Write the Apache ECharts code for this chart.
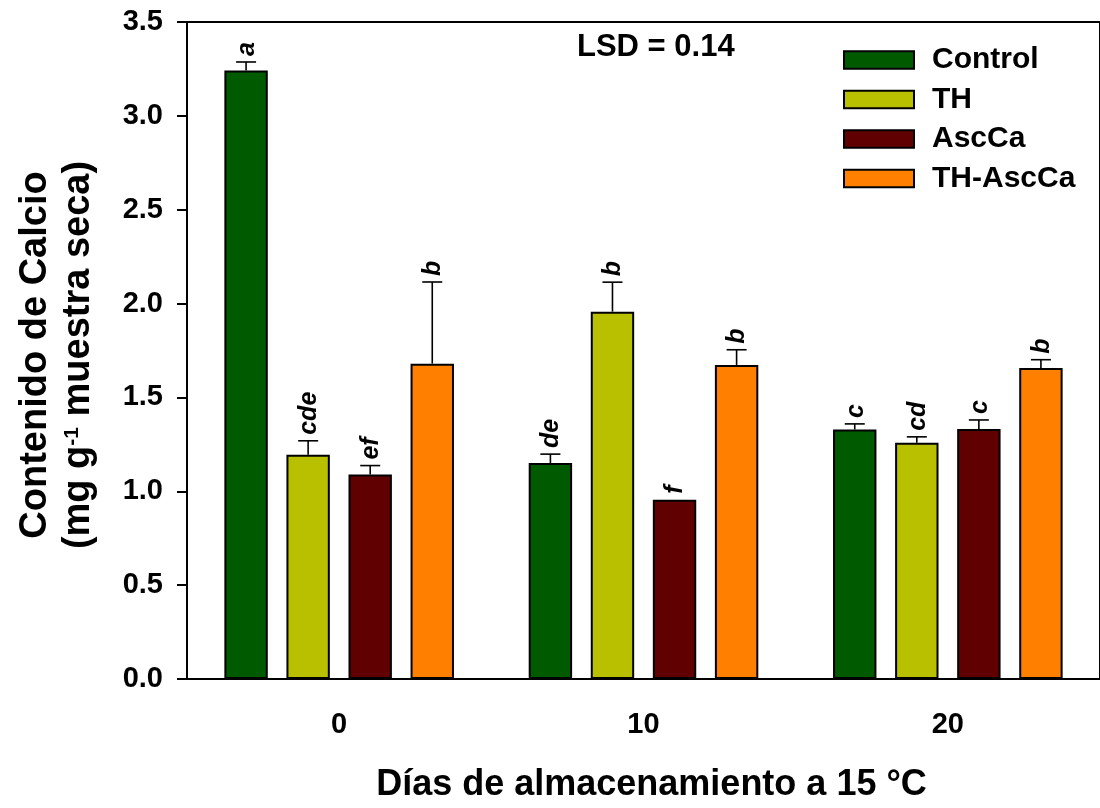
<!DOCTYPE html>
<html>
<head>
<meta charset="utf-8">
<script src="https://cdn.jsdelivr.net/npm/echarts@6/dist/echarts.min.js"></script>
<style>html,body{margin:0;padding:0;background:#fff}#c{width:1100px;height:808px}</style>
</head>
<body>
<div id="c"></div>
<script>
// ---- data ----
const days = ['0', '10', '20'];
const seriesNames = ['Control', 'TH', 'AscCa', 'TH-AscCa'];
const control = [3.242, 1.151, 1.329];
const controlErr = [0.045, 0.047, 0.030];
const controlLetters = ['a', 'de', 'c'];
const th = [1.195, 1.957, 1.258];
const thErr = [0.074, 0.157, 0.032];
const thLetters = ['cde', 'b', 'cd'];
const ascca = [1.089, 0.955, 1.332];
const asccaErr = [0.048, 0, 0.048];
const asccaLetters = ['ef', 'f', 'c'];
const thAscca = [1.680, 1.673, 1.657];
const thAsccaErr = [0.435, 0.081, 0.044];
const thAsccaLetters = ['b', 'b', 'b'];
const yTicks = { min: 0, max: 3.5, interval: 0.5 };
const lsdText = 'LSD = 0.14';

// ---- styling ----
const FONT = '"Liberation Sans", Arial, Helvetica, sans-serif';
const colors = ['#005a00', '#b8c000', '#600000', '#ff8000'];
const BAR_W = 43.4;
const BAR_GAP = 0.43;

const values = [control, th, ascca, thAscca];
const errs = [controlErr, thErr, asccaErr, thAsccaErr];
const letters = [controlLetters, thLetters, asccaLetters, thAsccaLetters];

const errRows = [];
const errLetters = [];
values.forEach((vals, si) => {
  vals.forEach((v, ci) => {
    errRows.push([ci, v, errs[si][ci], si]);
    errLetters.push(letters[si][ci]);
  });
});

const chart = echarts.init(document.getElementById('c'), null, { renderer: 'canvas' });

const barSeries = seriesNames.map((name, si) => ({
  name: name,
  type: 'bar',
  data: values[si],
  barWidth: BAR_W,
  barGap: (BAR_GAP * 100) + '%',
  itemStyle: { color: colors[si], borderColor: '#000', borderWidth: 2 },
  z: 2
}));

const errSeries = {
  type: 'custom',
  name: 'err',
  data: errRows,
  z: 5,
  encode: { x: 0, y: 1 },
  renderItem: function (params, api) {
    const ci = api.value(0), v = api.value(1), e = api.value(2), si = api.value(3);
    const step = BAR_W * (1 + BAR_GAP);
    const cx = api.coord([ci, 0])[0] + (si - 1.5) * step;
    const yTop = api.coord([ci, v])[1];
    const yErr = api.coord([ci, v + e])[1];
    const children = [];
    if (e > 0) {
      children.push({ type: 'line', shape: { x1: cx, y1: yTop, x2: cx, y2: yErr }, style: { stroke: '#000', lineWidth: 1.6 } });
      children.push({ type: 'line', shape: { x1: cx - 10, y1: yErr, x2: cx + 10, y2: yErr }, style: { stroke: '#000', lineWidth: 1.6 } });
    }
    children.push({
      type: 'text',
      x: cx + 1,
      y: yErr - 6,
      rotation: Math.PI / 2,
      style: {
        text: errLetters[params.dataIndex],
        fill: '#000',
        font: 'italic bold 25px ' + FONT,
        align: 'left',
        verticalAlign: 'middle'
      }
    });
    return { type: 'group', children: children };
  }
};

chart.setOption({
  animation: false,
  backgroundColor: '#fff',
  grid: {
    left: 187, right: -18.5, top: 22, bottom: 124.3,
    show: true, borderColor: '#000', borderWidth: 2, backgroundColor: 'transparent'
  },
  legend: {
    data: seriesNames,
    orient: 'vertical',
    left: 843, top: 45,
    padding: 0,
    itemWidth: 70, itemHeight: 17.6,
    itemGap: 9.5,
    icon: 'rect',
    itemStyle: { borderColor: '#000', borderWidth: 2 },
    textStyle: { fontFamily: FONT, fontWeight: 'bold', fontSize: 30, color: '#000', padding: [0, 0, 0, 13] }
  },
  xAxis: {
    type: 'category',
    data: days,
    axisLine: { lineStyle: { color: '#000', width: 2 } },
    axisTick: { alignWithLabel: true, length: 9, lineStyle: { color: '#000', width: 2 } },
    axisLabel: { color: '#000', fontFamily: FONT, fontWeight: 'bold', fontSize: 29, margin: 31 },
    name: 'Días de almacenamiento a 15 °C',
    nameLocation: 'middle',
    nameGap: 88,
    nameTextStyle: { color: '#000', fontFamily: FONT, fontWeight: 'bold', fontSize: 36, padding: [0, 0, 0, 16] },
    splitLine: { show: false }
  },
  yAxis: {
    type: 'value',
    min: yTicks.min, max: yTicks.max, interval: yTicks.interval,
    axisLine: { show: true, lineStyle: { color: '#000', width: 2 } },
    axisTick: { show: true, length: 10, lineStyle: { color: '#000', width: 2 } },
    axisLabel: { color: '#000', fontFamily: FONT, fontWeight: 'bold', fontSize: 29, margin: 24,
      formatter: v => v.toFixed(1) },
    splitLine: { show: false }
  },
  graphic: [
    {
      type: 'text',
      x: 57, y: 355,
      rotation: Math.PI / 2,
      style: {
        text: '{t|Contenido de Calcio}\n{t|(mg g}{s|-1}{t| muestra seca)}',
        align: 'center',
        verticalAlign: 'middle',
        fill: '#000',
        rich: {
          t: { fontFamily: FONT, fontWeight: 'bold', fontSize: 38, lineHeight: 43, fill: '#000' },
          s: { fontFamily: FONT, fontWeight: 'bold', fontSize: 21, lineHeight: 43, verticalAlign: 'top', fill: '#000', padding: [5, 0, 0, 0] }
        }
      }
    },
    {
      type: 'text',
      x: 577, y: 47,
      style: { text: lsdText, fill: '#000', font: 'bold 31px ' + FONT, align: 'left', verticalAlign: 'middle' }
    }
  ],
  series: barSeries.concat([errSeries])
});
</script>
</body>
</html>
